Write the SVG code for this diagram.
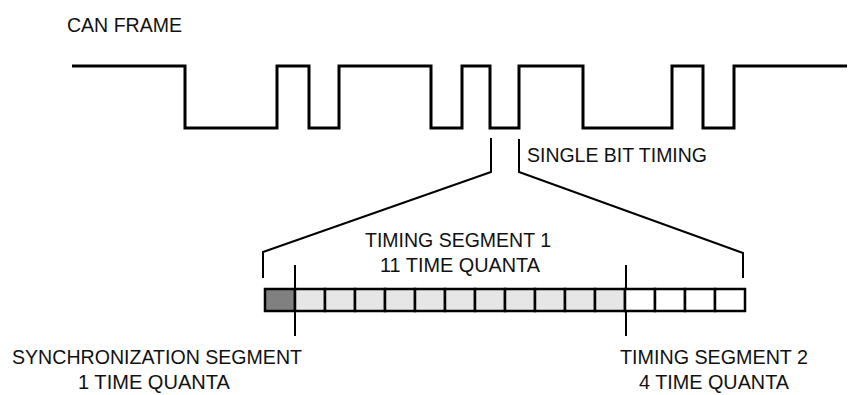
<svg xmlns="http://www.w3.org/2000/svg" width="848" height="395" viewBox="0 0 848 395">
<style>
.t{font-family:"Liberation Sans",Arial,sans-serif;font-size:21px;fill:#111}
.ln{fill:none;stroke:#000;stroke-width:2}
.wv{fill:none;stroke:#000;stroke-width:3}
.c{stroke:#000;stroke-width:2.5}
</style>
<rect width="848" height="395" fill="#fff"/>
<g id="title"><text class="t" x="67" y="32" textLength="115" lengthAdjust="spacingAndGlyphs">CAN FRAME</text></g>
<g id="waveform"><path class="wv" d="M72,66 H185 V128 H277 V66 H309 V128 H339 V66 H431 V128 H462 V66 H490 V128 H519 V66 H583 V128 H672 V66 H703 V128 H734 V66 H847"/></g>
<g id="single-bit-label"><text class="t" x="527" y="162" textLength="180" lengthAdjust="spacingAndGlyphs">SINGLE BIT TIMING</text></g>
<g id="connectors">
<path class="ln" d="M491,138 V172 L263,252 V278"/>
<path class="ln" d="M519,139 V172 L743,253 V278"/>
<path class="ln" d="M295,265 V336"/>
<path class="ln" d="M626,265 V336"/>
</g>
<g id="bit-bar">
<rect class="c" x="265" y="289" width="30" height="22" fill="#808080"/>
<g fill="#e6e6e6">
<rect class="c" x="295" y="289" width="30" height="22"/>
<rect class="c" x="325" y="289" width="30" height="22"/>
<rect class="c" x="355" y="289" width="30" height="22"/>
<rect class="c" x="385" y="289" width="30" height="22"/>
<rect class="c" x="415" y="289" width="30" height="22"/>
<rect class="c" x="445" y="289" width="30" height="22"/>
<rect class="c" x="475" y="289" width="30" height="22"/>
<rect class="c" x="505" y="289" width="30" height="22"/>
<rect class="c" x="535" y="289" width="30" height="22"/>
<rect class="c" x="565" y="289" width="30" height="22"/>
<rect class="c" x="595" y="289" width="30" height="22"/>
</g>
<g fill="#fff">
<rect class="c" x="625" y="289" width="30" height="22"/>
<rect class="c" x="655" y="289" width="30" height="22"/>
<rect class="c" x="685" y="289" width="30" height="22"/>
<rect class="c" x="715" y="289" width="30" height="22"/>
</g>
</g>
<g id="ts1-label" text-anchor="middle">
<text class="t" x="458" y="247" textLength="186" lengthAdjust="spacingAndGlyphs">TIMING SEGMENT 1</text>
<text class="t" x="460" y="272" textLength="160" lengthAdjust="spacingAndGlyphs">11 TIME QUANTA</text>
</g>
<g id="sync-label" text-anchor="middle">
<text class="t" x="157" y="364" textLength="290" lengthAdjust="spacingAndGlyphs">SYNCHRONIZATION SEGMENT</text>
<text class="t" x="154" y="389" textLength="152" lengthAdjust="spacingAndGlyphs">1 TIME QUANTA</text>
</g>
<g id="ts2-label" text-anchor="middle">
<text class="t" x="714" y="364" textLength="188" lengthAdjust="spacingAndGlyphs">TIMING SEGMENT 2</text>
<text class="t" x="714" y="389" textLength="150" lengthAdjust="spacingAndGlyphs">4 TIME QUANTA</text>
</g>
</svg>
